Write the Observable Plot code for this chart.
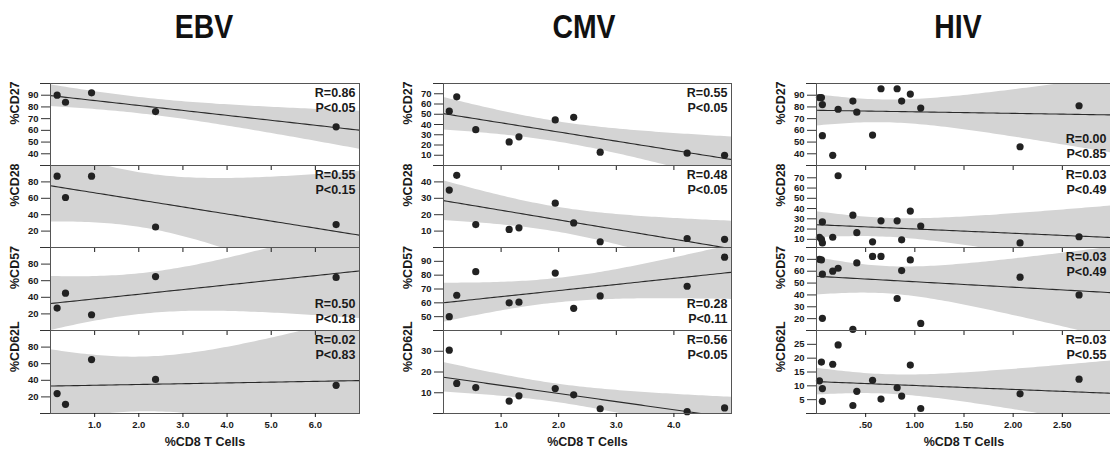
<!DOCTYPE html>
<html>
<head>
<meta charset="utf-8">
<script src="https://cdn.jsdelivr.net/npm/d3@7"></script>
<script src="https://cdn.jsdelivr.net/npm/@observablehq/plot@0.6"></script>
<style>
  body { margin: 0; background: #fff; }
  #wrap { position: relative; width: 1110px; height: 455px; overflow: hidden; background: #fff;
          font-family: "Liberation Sans", Arial, Helvetica, sans-serif; }
  .title { position: absolute; top: 10px; transform: translateX(-50%) scaleX(0.86); font-size: 33px; font-weight: bold;
           line-height: 1; color: #111; white-space: nowrap; }
</style>
</head>
<body>
<div id="wrap"></div>
<script>
// ---------------- data ----------------
const panelNames = ["EBV", "CMV", "HIV"];
const markers = ["%CD27", "%CD28", "%CD57", "%CD62L"];
const xLabel = "%CD8 T Cells";

// EBV
const ebvX     = [0.15, 0.34, 0.93, 2.38, 6.47];
const ebvCD27  = [90, 84, 92, 76, 63];
const ebvCD28  = [87, 61, 87, 25, 28];
const ebvCD57  = [27, 45, 19, 65, 64];
const ebvCD62L = [24, 11, 65, 41, 34];
const ebvXTicks = [1, 2, 3, 4, 5, 6];
const ebvXTickLabels = ["1.0", "2.0", "3.0", "4.0", "5.0", "6.0"];
const ebvXDomain = [0, 7];
const ebvYDomains = [[30, 100], [0, 100], [0, 100], [0, 100]];
const ebvYTicks = [[40, 50, 60, 70, 80, 90], [20, 40, 60, 80], [20, 40, 60, 80], [20, 40, 60, 80]];
const ebvStats = ["R=0.86\nP<0.05", "R=0.55\nP<0.15", "R=0.50\nP<0.18", "R=0.02\nP<0.83"];
const ebvStatAnchor = ["top", "top", "bottom", "top"];

// CMV
const cmvX     = [0.10, 0.23, 0.56, 1.14, 1.31, 1.94, 2.26, 2.72, 4.23, 4.88];
const cmvCD27  = [53, 67, 35, 23, 28, 44.5, 47, 13, 12, 10];
const cmvCD28  = [35, 44, 14, 11, 12, 27, 15, 3.5, 5.5, 5];
const cmvCD57  = [50, 65.5, 82.5, 60, 60.5, 81.5, 56, 65, 72, 93];
const cmvCD62L = [30.5, 14.5, 12.5, 6, 8.5, 12, 9, 2.3, 0.9, 2.7];
const cmvXTicks = [1, 2, 3, 4];
const cmvXTickLabels = ["1.0", "2.0", "3.0", "4.0"];
const cmvXDomain = [0, 5];
const cmvYDomains = [[0, 80], [0, 50], [40, 100], [0, 40]];
const cmvYTicks = [[10, 20, 30, 40, 50, 60, 70], [10, 20, 30, 40], [50, 60, 70, 80, 90], [10, 20, 30]];
const cmvStats = ["R=0.55\nP<0.05", "R=0.48\nP<0.05", "R=0.28\nP<0.11", "R=0.56\nP<0.05"];
const cmvStatAnchor = ["top", "top", "bottom", "top"];

// HIV
const hivX     = [0.03, 0.05, 0.06, 0.06, 0.165, 0.22, 0.37, 0.41, 0.57, 0.656, 0.82, 0.866, 0.954, 1.06, 2.07, 2.67];
const hivCD27  = [88, 88, 82, 55.5, 38.7, 78, 85, 75.5, 56, 95.5, 95.5, 85, 91, 79, 46, 81];
const hivCD28  = [12, 10, 6.5, 27, 12, 72, 33.5, 16.5, 7.5, 28, 28, 9.5, 37.5, 23, 6.5, 12.5];
const hivCD57  = [70, 69.5, 57.5, 20.3, 60, 62.5, 11, 67, 72.5, 72.5, 37, 60.5, 69.5, 16, 55, 40];
const hivCD62L = [11.8, 18.6, 9, 4.4, 17.8, 24.8, 2.9, 8, 12, 5.2, 9.3, 6.3, 17.5, 1.8, 7.1, 12.4];
const hivXTicks = [0.5, 1, 1.5, 2, 2.5];
const hivXTickLabels = [".50", "1.00", "1.50", "2.00", "2.50"];
const hivXDomain = [0, 3];
const hivYDomains = [[30, 100], [2, 82], [10, 80], [0, 30]];
const hivYTicks = [[40, 50, 60, 70, 80, 90], [10, 20, 30, 40, 50, 60, 70], [20, 30, 40, 50, 60, 70], [5, 10, 15, 20, 25]];
const hivStats = ["R=0.00\nP<0.85", "R=0.03\nP<0.49", "R=0.03\nP<0.49", "R=0.03\nP<0.55"];
const hivStatAnchor = ["bottom", "top", "top", "top"];

// ---------------- layout ----------------
const frameLefts = [50, 443, 816];
const frameWidths = [309, 288, 295];
const statDx = [-4, -4, -5];
const rowTops = [83, 165, 247, 330];
const rowHeights = [82, 82, 83, 83];
const ML = 50;

const panels = [
  {x: ebvX, ys: [ebvCD27, ebvCD28, ebvCD57, ebvCD62L], xDomain: ebvXDomain, xTicks: ebvXTicks, xTickLabels: ebvXTickLabels,
   yDomains: ebvYDomains, yTicks: ebvYTicks, stats: ebvStats, statAnchor: ebvStatAnchor},
  {x: cmvX, ys: [cmvCD27, cmvCD28, cmvCD57, cmvCD62L], xDomain: cmvXDomain, xTicks: cmvXTicks, xTickLabels: cmvXTickLabels,
   yDomains: cmvYDomains, yTicks: cmvYTicks, stats: cmvStats, statAnchor: cmvStatAnchor},
  {x: hivX, ys: [hivCD27, hivCD28, hivCD57, hivCD62L], xDomain: hivXDomain, xTicks: hivXTicks, xTickLabels: hivXTickLabels,
   yDomains: hivYDomains, yTicks: hivYTicks, stats: hivStats, statAnchor: hivStatAnchor}
];

// ---------------- statistics helpers ----------------
const LC = [0.99999999999980993, 676.5203681218851, -1259.1392167224028, 771.32342877765313,
  -176.61502916214059, 12.507343278686905, -0.13857109526572012, 9.9843695780195716e-6, 1.5056327351493116e-7];
function lgamma(x) {
  if (x < 0.5) return Math.log(Math.PI / Math.sin(Math.PI * x)) - lgamma(1 - x);
  x -= 1; let a = LC[0]; const t = x + 7.5;
  for (let i = 1; i < 9; i++) a += LC[i] / (x + i);
  return 0.5 * Math.log(2 * Math.PI) + (x + 0.5) * Math.log(t) - t + Math.log(a);
}
function tpdf(t, v) {
  return Math.exp(lgamma((v + 1) / 2) - lgamma(v / 2)) / Math.sqrt(v * Math.PI) * Math.pow(1 + t * t / v, -(v + 1) / 2);
}
function tcdf(t, v) {
  const n = 400, h = t / n; let s = tpdf(0, v) + tpdf(t, v);
  for (let i = 1; i < n; i++) s += (i % 2 ? 4 : 2) * tpdf(i * h, v);
  return 0.5 + s * h / 3;
}
function tq(p, v) {
  let lo = 0, hi = 60;
  for (let k = 0; k < 60; k++) { const m = (lo + hi) / 2; if (tcdf(m, v) < p) lo = m; else hi = m; }
  return (lo + hi) / 2;
}
function fit(xs, ys, domain) {
  const n = xs.length, mx = d3.mean(xs), my = d3.mean(ys);
  let sxx = 0, sxy = 0;
  for (let i = 0; i < n; i++) { sxx += (xs[i] - mx) ** 2; sxy += (xs[i] - mx) * (ys[i] - my); }
  const b = sxy / sxx, a = my - b * mx;
  let sse = 0;
  for (let i = 0; i < n; i++) sse += (ys[i] - a - b * xs[i]) ** 2;
  const s = Math.sqrt(sse / (n - 2)), t = tq(0.975, n - 2);
  return d3.range(0, 81).map(i => {
    const x = domain[0] + (domain[1] - domain[0]) * i / 80;
    const y = a + b * x;
    const e = t * s * Math.sqrt(1 / n + (x - mx) ** 2 / sxx);
    return {x, y, lo: y - e, hi: y + e};
  });
}

// ---------------- drawing ----------------
const wrap = document.getElementById("wrap");
const titleCenters = [204, 584, 958];
panelNames.forEach((name, p) => {
  const d = document.createElement("div");
  d.className = "title"; d.textContent = name; d.style.left = titleCenters[p] + "px";
  wrap.appendChild(d);
});

panels.forEach((P, p) => {
  P.ys.forEach((ys, r) => {
    const last = r === 3;
    const mt = 2, mb = last ? 42 : 2;
    const pts = P.x.map((x, i) => ({x, y: ys[i]}));
    const grid = fit(P.x, ys, P.xDomain);
    const anchor = P.statAnchor[r];
    const chart = Plot.plot({
      width: ML + frameWidths[p] + 2,
      height: rowHeights[r] + mt + mb,
      marginLeft: ML, marginRight: 2, marginTop: mt, marginBottom: mb,
      x: {domain: P.xDomain, axis: null},
      y: {domain: P.yDomains[r], axis: null},
      style: {fontFamily: '"Liberation Sans", Arial, Helvetica, sans-serif', fontWeight: "bold",
              color: "#1a1a1a", background: "transparent", overflow: "visible"},
      marks: [
        Plot.areaY(grid, {x: "x", y1: "lo", y2: "hi", fill: "#d4d4d4", clip: true}),
        Plot.line(grid, {x: "x", y: "y", stroke: "#2a2a2a", strokeWidth: 1.1, clip: true}),
        Plot.dot(pts, {x: "x", y: "y", r: 3.6, fill: "#222"}),
        Plot.ruleY(P.yDomains[r], {insetLeft: -10, stroke: "#333", strokeWidth: 1.1}),
        Plot.frame({stroke: "#555", strokeWidth: 1}),
        Plot.axisY({ticks: P.yTicks[r], tickSize: 9, tickPadding: 3, fontSize: 9.5, label: null, stroke: "#333"}),
        r > 0 ? Plot.axisX({anchor: "top", ticks: P.xTicks, tickSize: -4, tickFormat: () => "", label: null}) : null,
        last ? Plot.axisX({anchor: "bottom", ticks: P.xTicks, tickSize: 4, tickPadding: 4, fontSize: 9.5,
                           tickFormat: (v) => P.xTickLabels[P.xTicks.indexOf(v)], label: null}) : null,
        Plot.text([markers[r]], {frameAnchor: "left", dx: -36, rotate: -90, fontSize: 12.5, text: d => d}),
        Plot.text([P.stats[r]], {frameAnchor: anchor === "top" ? "top-right" : "bottom-right",
                                 textAnchor: "end", lineAnchor: anchor, dx: statDx[p], dy: anchor === "top" ? 3 : -8,
                                 fontSize: 12.5, lineHeight: 1.17, text: d => d}),
        last ? Plot.text([xLabel], {frameAnchor: "bottom", dy: 32, fontSize: 12.5, text: d => d}) : null
      ]
    });
    chart.style.position = "absolute";
    chart.style.left = (frameLefts[p] - ML) + "px";
    chart.style.top = (rowTops[r] - mt) + "px";
    chart.style.overflow = "visible";
    wrap.appendChild(chart);
  });
});
</script>
</body>
</html>
